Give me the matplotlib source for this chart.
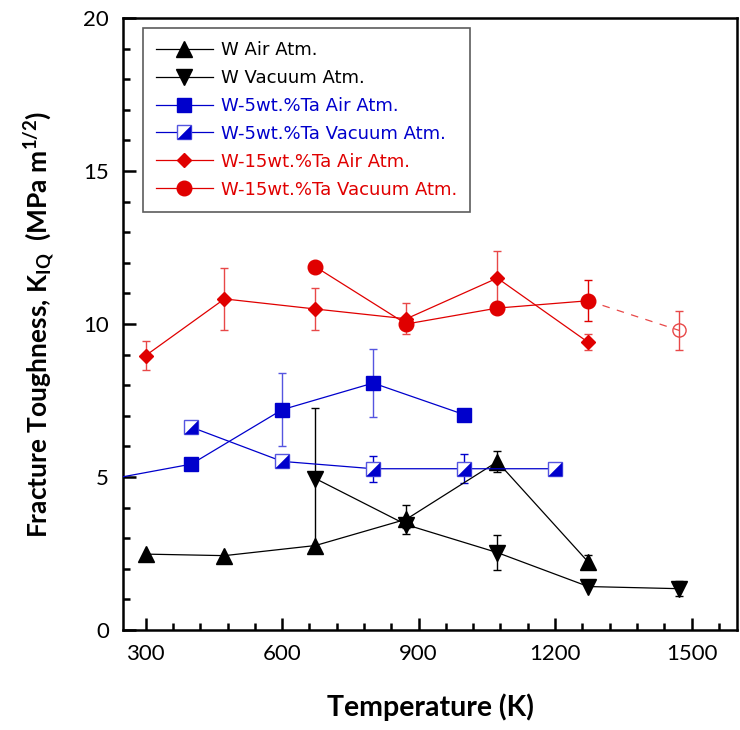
import matplotlib
matplotlib.use("Agg")
import matplotlib.pyplot as plt
from matplotlib.ticker import MultipleLocator

plt.rcParams['mathtext.fontset'] = 'custom'
plt.rcParams['mathtext.rm'] = 'Lato:bold'
plt.rcParams['mathtext.bf'] = 'Lato:bold'
plt.rcParams['mathtext.it'] = 'Lato:bold'

# ---------------- data ----------------
w_air_T = [300, 473, 673, 873, 1073, 1273]
w_air_K = [2.48, 2.43, 2.76, 3.62, 5.50, 2.22]
w_air_err = [0.0, 0.0, 0.0, 0.48, 0.34, 0.22]

w_vac_T = [673, 873, 1073, 1273, 1473]
w_vac_K = [4.95, 3.44, 2.53, 1.42, 1.35]
w_vac_err = [2.3, 0.12, 0.56, 0.0, 0.25]

w5_air_T = [200, 400, 600, 800, 1000]
w5_air_K = [4.87, 5.42, 7.20, 8.07, 7.04]
w5_air_err = [0.0, 0.0, 1.2, 1.1, 0.0]

w5_vac_T = [400, 600, 800, 1000, 1200]
w5_vac_K = [6.63, 5.51, 5.27, 5.27, 5.27]
w5_vac_err = [0.0, 0.0, 0.43, 0.48, 0.0]

w15_air_T = [300, 473, 673, 873, 1073, 1273]
w15_air_K = [8.97, 10.82, 10.49, 10.17, 11.50, 9.40]
w15_air_err = [0.47, 1.0, 0.68, 0.50, 0.90, 0.26]

w15_vac_T = [673, 873, 1073, 1273]
w15_vac_K = [11.87, 10.0, 10.52, 10.76]
w15_vac_err = [0.0, 0.0, 0.0, 0.67]

w15_vac_ext_T = [1273, 1473]
w15_vac_ext_K = [10.76, 9.79]
w15_vac_ext_err = [0.0, 0.63]

labels = ["W Air Atm.", "W Vacuum Atm.", "W-5wt.%Ta Air Atm.",
          "W-5wt.%Ta Vacuum Atm.", "W-15wt.%Ta Air Atm.", "W-15wt.%Ta Vacuum Atm."]

BLACK = "#000000"
BLUE = "#0000cc"
BLUE_L = "#5555e0"
RED = "#e00000"
RED_L = "#e84848"

fig = plt.figure(figsize=(7.4, 7.3), dpi=100)
ax = fig.add_axes([123/740, 100/730, 614/740, 612/730])

lw = 0.9
cap = 2.7
elw = 1.0

def eb(x, y, e, color):
    xs = [a for a, b in zip(x, e) if b > 0]
    ys = [a for a, b in zip(y, e) if b > 0]
    es = [b for b in e if b > 0]
    if xs:
        ax.errorbar(xs, ys, yerr=es, fmt='none', ecolor=color, elinewidth=elw,
                    capsize=cap, capthick=elw, zorder=2)

# W air
eb(w_air_T, w_air_K, w_air_err, BLACK)
h1, = ax.plot(w_air_T, w_air_K, '-', color=BLACK, lw=lw, marker='^', ms=11.5,
              mfc=BLACK, mec=BLACK, zorder=4)
# W vacuum
eb(w_vac_T, w_vac_K, w_vac_err, BLACK)
h2, = ax.plot(w_vac_T, w_vac_K, '-', color=BLACK, lw=lw, marker='v', ms=11.5,
              mfc=BLACK, mec=BLACK, zorder=4)
# W-5Ta air
eb(w5_air_T, w5_air_K, w5_air_err, BLUE_L)
h3, = ax.plot(w5_air_T, w5_air_K, '-', color=BLUE, lw=lw, marker='s', ms=10.5,
              mfc=BLUE, mec=BLUE, zorder=4)
# W-5Ta vacuum (half-filled squares)
eb(w5_vac_T, w5_vac_K, w5_vac_err, BLUE)
h4a, = ax.plot(w5_vac_T, w5_vac_K, '-', color=BLUE, lw=lw, marker='s', ms=9.5,
               mfc='white', mec=BLUE_L, mew=1.0, zorder=4)
tri = [(-1, -1), (1, -1), (1, 1), (-1, -1)]
h4b, = ax.plot(w5_vac_T, w5_vac_K, linestyle='none', marker=tri, ms=9.5,
               mfc=BLUE, mec=BLUE, mew=0.3, zorder=5)
# W-15Ta air
eb(w15_air_T, w15_air_K, w15_air_err, RED_L)
h5, = ax.plot(w15_air_T, w15_air_K, '-', color=RED, lw=lw, marker='D', ms=7,
              mfc=RED, mec=RED, zorder=4)
# W-15Ta vacuum
eb(w15_vac_T, w15_vac_K, w15_vac_err, RED)
h6, = ax.plot(w15_vac_T, w15_vac_K, '-', color=RED, lw=lw, marker='o', ms=10.5,
              mfc=RED, mec=RED, zorder=4)
eb(w15_vac_ext_T, w15_vac_ext_K, w15_vac_ext_err, RED_L)
ax.plot(w15_vac_ext_T, w15_vac_ext_K, linestyle=(0, (6, 6)), color=RED_L, lw=lw, zorder=3)
ax.plot(w15_vac_ext_T[1:], w15_vac_ext_K[1:], linestyle='none', marker='o', ms=9.5,
        mfc='none', mec=RED_L, mew=1.0, zorder=4)

ax.set_xlim(250, 1600)
ax.set_ylim(0, 20)
ax.xaxis.set_major_locator(MultipleLocator(300))
ax.xaxis.set_minor_locator(MultipleLocator(60))
ax.yaxis.set_major_locator(MultipleLocator(5))
ax.yaxis.set_minor_locator(MultipleLocator(1))
ax.tick_params(which='both', direction='in', top=False, right=False, width=1.8,
               labelsize=16, pad=10)
ax.tick_params(which='major', length=9)
ax.tick_params(which='minor', length=5)
for lab in ax.get_xticklabels() + ax.get_yticklabels():
    lab.set_fontfamily('Lato')
for s in ax.spines.values():
    s.set_linewidth(1.8)

ax.set_xlabel("Temperature (K)", fontsize=20.5, fontweight='bold', family='Lato', labelpad=21)
ax.set_ylabel(r"Fracture Toughness, K$_{\mathbf{IQ}}$  (MPa m$^{\mathbf{1/2}}$)",
              fontsize=19, fontweight='bold', family='Lato', labelpad=19)

leg = ax.legend([h1, h2, h3, (h4a, h4b), h5, h6], labels, loc='upper left',
                bbox_to_anchor=(0.0326, 0.9837), borderaxespad=0, frameon=True,
                fancybox=False, edgecolor='#333333', handlelength=3.15,
                labelspacing=0.55, borderpad=0.72, handletextpad=0.45,
                prop={'family': 'DejaVu Sans', 'size': 13})
leg.get_frame().set_linewidth(1.2)
for t, c in zip(leg.get_texts(), [BLACK, BLACK, BLUE, BLUE, RED, RED]):
    t.set_color(c)

fig.savefig("out.png", dpi=100)
